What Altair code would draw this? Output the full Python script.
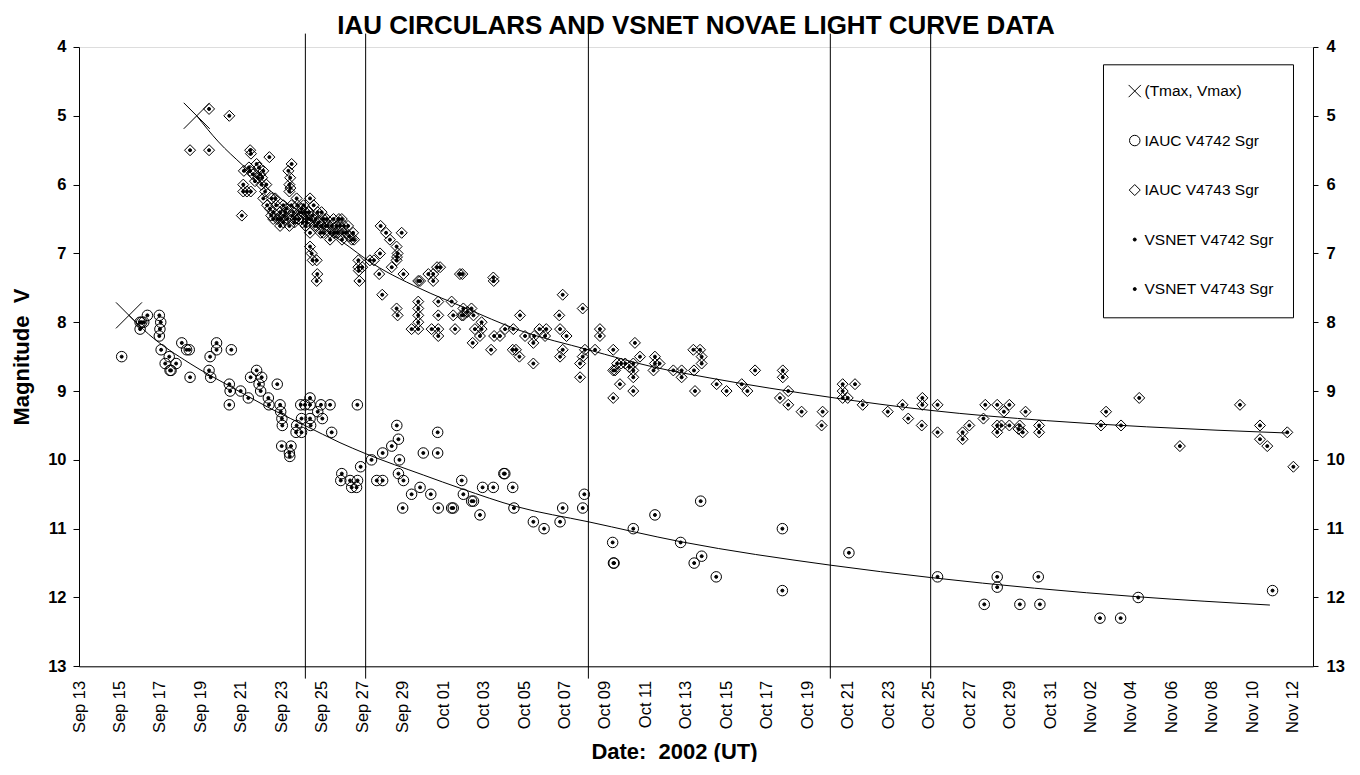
import altair as alt
import pandas as pd

# ---------------- data (days counted from Aug 31, 2002: Sep 13 = 13, Oct 1 = 31, Nov 1 = 62) ----
series_names = ["(Tmax, Vmax)", "IAUC V4742 Sgr", "IAUC V4743 Sgr", "VSNET V4742 Sgr", "VSNET V4743 Sgr"]

v4742_day = [
    15.11, 16.02, 16.10, 16.02, 16.20, 16.38, 16.97, 17.04, 17.00, 16.97,
    17.06, 17.46, 17.26, 17.80, 17.50, 17.55, 18.08, 18.32, 18.45, 18.49,
    19.48, 19.43, 19.51, 19.80, 19.80, 20.53, 20.43, 20.47, 20.43, 20.99,
    21.37, 21.48, 21.78, 22.03, 21.90, 21.98, 22.36, 22.39, 22.80, 22.94,
    22.97, 23.03, 23.05, 23.02, 23.48, 23.40, 23.42, 23.76, 23.73, 24.00,
    23.96, 24.42, 24.17, 24.42, 24.96, 25.41, 24.00, 24.42, 24.45, 24.80,
    25.03, 25.49, 26.76, 25.99, 25.94, 26.40, 26.48, 26.72, 26.77, 26.92,
    27.46, 27.72, 28.01, 28.01, 28.46, 28.79, 28.71, 28.84, 28.79, 29.04,
    29.44, 29.00, 29.86, 30.02, 30.39, 30.73, 30.73, 30.76, 31.42, 31.50,
    31.92, 32.00, 32.41, 32.50, 32.82, 32.95, 33.48, 34.00, 34.05, 34.44,
    34.50, 35.46, 35.99, 36.78, 36.91, 37.90, 37.98, 39.38, 39.42, 39.45,
    40.40, 41.47, 42.74, 43.41, 43.78, 43.73, 44.50, 47.77, 47.77, 51.06,
    55.44, 58.39, 58.39, 57.75, 59.51, 60.42, 60.50, 63.47, 64.49, 65.36,
    72.00,
]
v4742_mag = [
    8.5, 8.1, 8.0, 8.0, 8.0, 7.9, 7.9, 8.0, 8.1, 8.2,
    8.4, 8.5, 8.6, 8.6, 8.7, 8.7, 8.3, 8.4, 8.4, 8.8,
    8.5, 8.7, 8.8, 8.3, 8.4, 8.4, 8.9, 9.0, 9.2, 9.0,
    9.1, 8.8, 8.7, 8.8, 8.9, 9.0, 9.1, 9.2, 8.9, 9.2,
    9.3, 9.4, 9.5, 9.8, 9.8, 9.9, 9.95, 9.5, 9.6, 9.6,
    9.2, 9.1, 9.2, 9.2, 9.2, 9.2, 9.4, 9.4, 9.5, 9.3,
    9.4, 9.6, 9.2, 10.2, 10.3, 10.3, 10.4, 10.4, 10.3, 10.1,
    10.0, 10.3, 10.3, 9.9, 9.8, 9.7, 9.5, 10.0, 10.2, 10.3,
    10.5, 10.7, 10.4, 9.9, 10.5, 9.6, 9.9, 10.7, 10.7, 10.7,
    10.3, 10.5, 10.6, 10.6, 10.8, 10.4, 10.4, 10.2, 10.2, 10.4,
    10.7, 10.9, 11.0, 10.9, 10.7, 10.7, 10.5, 11.2, 11.5, 11.5,
    11.0, 10.8, 11.2, 11.5, 11.4, 10.6, 11.7, 11.0, 11.9, 11.35,
    11.7, 11.7, 11.85, 12.1, 12.1, 11.7, 12.1, 12.3, 12.3, 12.0,
    11.9,
]

v4743_day = [
    18.49, 19.43, 19.43, 20.43, 21.46, 21.50, 22.41, 23.51, 21.15, 21.46,
    21.78, 21.90, 22.11, 21.86, 22.02, 22.26, 21.12, 21.12, 21.49, 21.30,
    22.11, 22.52, 21.05, 23.35, 23.44, 23.40, 23.45, 23.40, 22.44, 22.75,
    22.60, 22.94, 22.94, 23.76, 24.42, 24.00, 24.42, 24.99, 25.24, 24.75,
    25.08, 25.58, 25.99, 25.74, 26.07, 26.48, 25.41, 24.42, 24.42, 24.50,
    24.75, 24.55, 24.78, 24.75, 23.10, 23.20, 23.30, 23.50, 23.60, 23.70,
    23.80, 23.90, 24.10, 24.20, 24.30, 24.20, 24.60, 24.70, 24.80, 25.00,
    25.20, 25.40, 25.60, 25.80, 26.00, 26.20, 26.30, 25.90, 23.00, 22.80,
    22.70, 23.15, 26.81, 26.81, 26.83, 26.86, 27.00, 27.38, 27.91, 28.18,
    28.37, 28.95, 28.70, 28.75, 28.72, 28.70, 29.04, 27.88, 27.58, 27.84,
    28.46, 27.99, 29.77, 30.27, 29.77, 28.70, 28.75, 29.77, 29.77, 29.77,
    29.44, 29.77, 30.76, 30.76, 30.76, 30.76, 30.43, 31.42, 31.59, 31.92,
    31.50, 29.86, 30.51, 30.51, 30.85, 30.70, 31.83, 31.95, 33.48, 33.50,
    32.00, 32.00, 32.20, 32.40, 32.50, 32.57, 32.46, 32.82, 32.90, 32.90,
    33.37, 33.52, 33.81, 34.06, 34.44, 34.77, 34.80, 34.60, 34.47, 35.05,
    35.46, 35.46, 35.76, 36.04, 36.10, 35.50, 36.74, 36.91, 36.78, 37.10,
    36.78, 36.91, 37.90, 37.77, 37.77, 37.90, 38.01, 38.51, 38.75, 38.75,
    39.41, 39.41, 39.41, 39.74, 39.80, 39.60, 39.50, 40.48, 40.40, 40.40,
    40.40, 40.40, 40.73, 40.00, 40.20, 41.47, 41.47, 41.40, 41.70, 42.38,
    42.79, 42.79, 43.37, 43.70, 43.78, 43.78, 43.40, 43.45, 44.52, 45.01,
    45.76, 46.04, 46.42, 47.79, 47.79, 47.65, 48.06, 48.06, 48.72, 49.76,
    49.71, 50.75, 50.75, 50.75, 51.00, 51.36, 51.74, 52.98, 53.71, 53.99,
    54.69, 54.69, 54.66, 55.44, 55.44, 56.68, 56.68, 57.01, 57.71, 57.80,
    58.39, 58.39, 58.39, 58.72, 58.60, 58.99, 58.99, 59.44, 59.50, 59.65,
    59.79, 60.46, 60.46, 63.52, 63.77, 64.51, 65.41, 67.42, 70.39, 71.38,
    71.38, 71.74, 72.73, 73.03,
    # dense blob Sep 21 - Sep 26
    22.30, 22.50, 22.60, 22.90, 23.10, 23.25, 23.40, 23.55, 23.65, 23.85,
    24.00, 24.05, 24.25, 24.35, 24.55, 24.65, 24.85, 24.95, 25.10, 25.30,
    25.50, 25.70, 25.85, 26.10, 26.35, 26.55, 26.60, 21.60, 21.70, 21.95,
    22.05, 22.20, 21.40,
]
v4743_mag = [
    5.5, 4.9, 5.5, 5.0, 5.5, 5.55, 5.6, 5.7, 5.8, 5.8,
    5.7, 5.75, 5.8, 5.9, 6.0, 6.0, 6.0, 6.1, 6.1, 6.1,
    6.2, 6.2, 6.45, 5.8, 5.9, 6.0, 6.05, 6.1, 6.35, 6.3,
    6.4, 6.4, 6.6, 6.2, 6.2, 6.4, 6.5, 6.4, 6.5, 6.6,
    6.7, 6.5, 6.5, 6.6, 6.7, 6.8, 6.8, 6.7, 6.9, 7.0,
    7.1, 7.1, 7.3, 7.4, 6.3, 6.4, 6.5, 6.3, 6.4, 6.5,
    6.3, 6.4, 6.3, 6.4, 6.5, 6.6, 6.3, 6.5, 6.4, 6.6,
    6.6, 6.7, 6.7, 6.7, 6.8, 6.7, 6.6, 6.6, 6.5, 6.5,
    6.2, 6.45, 7.1, 7.2, 7.25, 7.4, 7.2, 7.1, 6.6, 6.7,
    6.8, 6.7, 6.9, 7.0, 7.05, 7.1, 7.3, 7.0, 7.1, 7.3,
    7.2, 7.6, 7.4, 7.3, 7.7, 7.8, 7.9, 7.8, 7.9, 8.0,
    8.1, 8.1, 7.7, 7.9, 8.1, 8.2, 8.1, 7.7, 8.1, 7.9,
    7.9, 7.4, 7.3, 7.4, 7.2, 7.2, 7.3, 7.3, 7.35, 7.4,
    7.8, 7.9, 7.85, 7.8, 7.9, 8.1, 8.3, 8.2, 8.0, 8.1,
    8.4, 8.2, 8.2, 8.1, 8.4, 8.5, 7.9, 8.4, 8.1, 8.2,
    8.3, 8.6, 8.1, 8.2, 8.1, 8.2, 7.9, 7.6, 8.1, 8.2,
    8.5, 8.4, 7.8, 8.6, 8.8, 8.5, 8.4, 8.4, 8.1, 8.2,
    8.4, 8.7, 9.1, 8.9, 8.6, 8.6, 8.7, 8.3, 8.6, 8.7,
    8.8, 9.0, 8.5, 8.6, 8.65, 8.5, 8.6, 8.7, 8.6, 8.7,
    8.7, 8.8, 8.4, 8.4, 8.5, 8.6, 8.7, 9.0, 8.9, 9.0,
    8.9, 9.0, 8.7, 8.7, 8.8, 9.1, 9.0, 9.2, 9.3, 9.3,
    9.5, 8.9, 9.0, 9.1, 9.1, 8.9, 9.2, 9.3, 9.2, 9.4,
    9.1, 9.2, 9.5, 9.2, 9.6, 9.6, 9.7, 9.5, 9.4, 9.2,
    9.2, 9.5, 9.6, 9.3, 9.5, 9.2, 9.5, 9.55, 9.5, 9.6,
    9.3, 9.5, 9.6, 9.5, 9.3, 9.5, 9.1, 9.8, 9.2, 9.5,
    9.7, 9.8, 9.6, 10.1,
    # dense blob Sep 21 - Sep 26
    6.3, 6.45, 6.5, 6.5, 6.55, 6.35, 6.6, 6.45, 6.55, 6.5,
    6.35, 6.55, 6.55, 6.4, 6.45, 6.6, 6.55, 6.7, 6.5, 6.6,
    6.6, 6.7, 6.5, 6.6, 6.75, 6.7, 6.8, 5.85, 5.95, 5.85,
    5.9, 6.1, 5.75,
]

# fitted light curves
curve4742_day = [15.47, 16.43, 18.49, 20.46, 22.77, 24.17, 25.90, 27.17, 30.02, 31.92,
                 34.64, 38.18, 42.76, 50.14, 55.10, 65.36, 71.87]
curve4742_mag = [7.90, 8.17, 8.60, 8.93, 9.30, 9.50, 9.75, 9.91, 10.22, 10.42,
                 10.68, 10.90, 11.19, 11.53, 11.71, 11.99, 12.11]
curve4743_day = [18.82, 19.90, 21.10, 22.50, 24.19, 26.39, 27.17, 29.86, 32.00, 34.80,
                 38.18, 41.39, 44.19, 50.12, 55.07, 60.83, 65.78, 72.73]
curve4743_mag = [5.00, 5.38, 5.72, 6.10, 6.45, 6.91, 7.08, 7.51, 7.78, 8.12,
                 8.40, 8.65, 8.81, 9.09, 9.28, 9.43, 9.52, 9.61]

tmax_day = [18.82, 15.47]
tmax_mag = [5.0, 7.9]

event_days = [24.19, 27.17, 38.18, 50.14, 55.10]

x_tick_days = list(range(13, 74, 2))
y_ticks = list(range(4, 14))

# ---------------- tables ----------------
rows = []
for d, m in zip(v4742_day, v4742_mag):
    rows.append({"day": d, "mag": m, "series": "IAUC V4742 Sgr"})
for d, m in zip(v4743_day, v4743_mag):
    rows.append({"day": d, "mag": m, "series": "IAUC V4743 Sgr"})
for d, m in zip(v4742_day, v4742_mag):
    rows.append({"day": d, "mag": m, "series": "VSNET V4742 Sgr"})
for d, m in zip(v4743_day, v4743_mag):
    rows.append({"day": d, "mag": m, "series": "VSNET V4743 Sgr"})
pts = pd.DataFrame(rows)

curves = pd.concat([
    pd.DataFrame({"day": curve4742_day, "mag": curve4742_mag, "star": "V4742"}),
    pd.DataFrame({"day": curve4743_day, "mag": curve4743_mag, "star": "V4743"}),
])
tmax = pd.DataFrame({"day": tmax_day, "mag": tmax_mag})
events = pd.DataFrame({"day": event_days})

FONT = "Liberation Sans"
X_PATH = "M-1,-1L1,1M1,-1L-1,1"

xscale = alt.Scale(domain=[13, 74], nice=False, zero=False)
yscale = alt.Scale(domain=[4, 13], reverse=True, nice=False, zero=False)

x_axis = alt.Axis(
    values=x_tick_days,
    labelExpr="timeFormat(datetime(2002, 8, datum.value), '%b %d')",
    labelAngle=270, labelFontSize=16.5, labelFont=FONT, labelColor="black",
    ticks=False, tickSize=0, labelPadding=14, labelOverlap=False, labelFlush=False,
    grid=False, domainColor="black",
    title="Date:\u00a0\u00a02002 (UT)", titleFont=FONT, titleFontSize=22, titleFontWeight="bold",
    titleColor="black", titleX=595, titleY=92, titleBaseline="alphabetic", titleAlign="center",
)
y_left = alt.Axis(
    orient="left", values=y_ticks, format="d", labelFont=FONT, labelFontSize=16.5,
    labelFontWeight="bold", labelColor="black", tickSize=6, tickColor="black",
    labelPadding=7, labelFlush=False, grid=False, domainColor="black",
    title="Magnitude\u00a0\u00a0V", titleFont=FONT, titleFontSize=22, titleFontWeight="bold",
    titleColor="black", titleAngle=270, titleX=-50.7, titleY=309.6,
    titleBaseline="alphabetic", titleAlign="center",
)
y_right = alt.Axis(
    orient="right", values=y_ticks, format="d", labelFont=FONT, labelFontSize=16.5,
    labelFontWeight="bold", labelColor="black", tickSize=5, tickColor="black",
    labelPadding=8, labelFlush=False, grid=False, domainColor="black", title=None,
)

legend = alt.Legend(
    title=None, orient="none", legendX=1024, legendY=17.3, padding=19, rowPadding=32.5,
    symbolOffset=5, labelOffset=2, labelFontSize=15.5, labelFont=FONT, labelColor="black",
    strokeColor="black", fillColor="white", symbolStrokeColor="black", symbolStrokeWidth=1,
    labelLimit=300,
)

X = alt.X("day:Q", scale=xscale, axis=x_axis)

rules = alt.Chart(events).mark_rule(color="black", strokeWidth=1).encode(
    x=X,
    y=alt.value(-13.4),
    y2=alt.value(631.6),
)

lines = alt.Chart(curves).mark_line(color="black", strokeWidth=1, interpolate="monotone").encode(
    x=X,
    y=alt.Y("mag:Q", scale=yscale, axis=y_right),
    detail="star:N",
)

points = alt.Chart(pts).mark_point(stroke="black", strokeWidth=1, opacity=1).encode(
    x=X,
    y=alt.Y("mag:Q", scale=yscale, axis=y_left),
    shape=alt.Shape("series:N", scale=alt.Scale(domain=series_names,
                    range=[X_PATH, "circle", "diamond", "circle", "circle"]), legend=legend),
    size=alt.Size("series:N", scale=alt.Scale(type="ordinal", domain=series_names,
                  range=[150, 110, 121, 9, 9]), legend=legend),
    fill=alt.Fill("series:N", scale=alt.Scale(domain=series_names,
                  range=["transparent", "transparent", "transparent", "black", "black"]), legend=legend),
    stroke=alt.Stroke("series:N", scale=alt.Scale(domain=series_names,
                  range=["black", "black", "black", "black", "black"]), legend=legend),
)

xmarks = alt.Chart(tmax).mark_point(shape=X_PATH, size=676, stroke="black", strokeWidth=1,
                                    opacity=1, filled=False).encode(
    x=X,
    y=alt.Y("mag:Q", scale=yscale, axis=None),
)

chart = alt.layer(rules, lines, points, xmarks).resolve_axis(y="independent").properties(
    width=1234,
    height=619.3,
    padding={"left": 71, "top": 39, "right": 39, "bottom": 96},
    autosize=alt.AutoSizeParams(type="none"),
    title=alt.TitleParams(
        text="IAU CIRCULARS AND VSNET NOVAE LIGHT CURVE DATA", font=FONT, fontSize=26,
        fontWeight="bold", color="black", anchor="middle", frame="group", offset=-6,
    ),
).configure_view(stroke="black", strokeWidth=1).configure(font=FONT, background="white")

chart.save("out.html", embed_options={"renderer": "svg", "actions": False})
